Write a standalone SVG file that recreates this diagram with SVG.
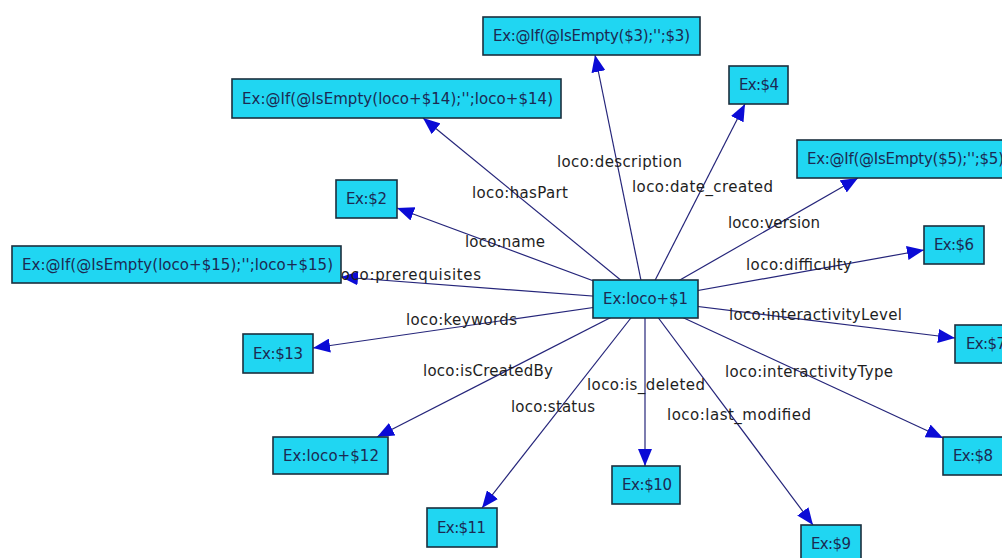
<svg xmlns="http://www.w3.org/2000/svg" width="1002" height="558" viewBox="0 0 1002 558">
  <style>
    .node rect { fill: #20d6f2; stroke: #1b2f3e; stroke-width: 1.6; }
    .node text { font-family: "DejaVu Sans", sans-serif; font-size: 15px; fill: #1c2a52; }
    .edge { stroke: #25257a; stroke-width: 1.2; fill: none; marker-end: url(#arrow); }
    .lbl { font-family: "DejaVu Sans", sans-serif; font-size: 15px; fill: #1e1e1e; }
  </style>
  <defs>
    <marker id="arrow" markerWidth="17" markerHeight="14" refX="17" refY="7" orient="auto" markerUnits="userSpaceOnUse">
      <path d="M0,0 L17,7 L0,14 z" fill="#0b0bd6"/>
    </marker>
  </defs>
  <rect width="1002" height="558" fill="#ffffff"/>

  <!-- connectors: every property radiates from the subject node -->
  <g id="connectors">
    <line class="edge" x1="645" y1="300" x2="595" y2="55"/>
    <line class="edge" x1="645" y1="300" x2="423" y2="118"/>
    <line class="edge" x1="645" y1="300" x2="745" y2="104"/>
    <line class="edge" x1="645" y1="300" x2="858" y2="178"/>
    <line class="edge" x1="645" y1="300" x2="397" y2="208"/>
    <line class="edge" x1="645" y1="300" x2="341" y2="277"/>
    <line class="edge" x1="645" y1="300" x2="924" y2="250"/>
    <line class="edge" x1="645" y1="300" x2="955" y2="338"/>
    <line class="edge" x1="645" y1="300" x2="943" y2="438"/>
    <line class="edge" x1="645" y1="300" x2="813" y2="525"/>
    <line class="edge" x1="645" y1="300" x2="645" y2="466"/>
    <line class="edge" x1="645" y1="300" x2="482" y2="508"/>
    <line class="edge" x1="645" y1="300" x2="377" y2="437"/>
    <line class="edge" x1="645" y1="300" x2="313" y2="348"/>

    <text class="lbl" x="557" y="167" textLength="125">loco:description</text>
    <text class="lbl" x="632" y="192" textLength="141">loco:date_created</text>
    <text class="lbl" x="472" y="198" textLength="96">loco:hasPart</text>
    <text class="lbl" x="728" y="228" textLength="92">loco:version</text>
    <text class="lbl" x="465" y="247" textLength="80">loco:name</text>
    <text class="lbl" x="746" y="270" textLength="106">loco:difficulty</text>
    <text class="lbl" x="336" y="280" textLength="145">loco:prerequisites</text>
    <text class="lbl" x="729" y="320" textLength="173">loco:interactivityLevel</text>
    <text class="lbl" x="406" y="325" textLength="111">loco:keywords</text>
    <text class="lbl" x="725" y="377" textLength="168">loco:interactivityType</text>
    <text class="lbl" x="423" y="376" textLength="130">loco:isCreatedBy</text>
    <text class="lbl" x="587" y="390" textLength="118">loco:is_deleted</text>
    <text class="lbl" x="511" y="412" textLength="84">loco:status</text>
    <text class="lbl" x="667" y="420" textLength="144">loco:last_modified</text>
  </g>

  <!-- nodes -->
  <g id="n1" class="node"><rect x="593" y="280" width="105" height="38"/><text x="603" y="304" textLength="85">Ex:loco+$1</text></g>
  <g id="n3" class="node"><rect x="483" y="17" width="217" height="38"/><text x="493" y="41" textLength="197">Ex:@If(@IsEmpty($3);'';$3)</text></g>
  <g id="n14" class="node"><rect x="232" y="79" width="329" height="39"/><text x="242" y="104" textLength="311">Ex:@If(@IsEmpty(loco+$14);'';loco+$14)</text></g>
  <g id="n4" class="node"><rect x="729" y="66" width="59" height="38"/><text x="739" y="90" textLength="40">Ex:$4</text></g>
  <g id="n5" class="node"><rect x="797" y="140" width="217" height="38"/><text x="807" y="164" textLength="197">Ex:@If(@IsEmpty($5);'';$5)</text></g>
  <g id="n2" class="node"><rect x="336" y="180" width="61" height="38"/><text x="346" y="204" textLength="41">Ex:$2</text></g>
  <g id="n15" class="node"><rect x="12" y="246" width="329" height="37"/><text x="22" y="270" textLength="311">Ex:@If(@IsEmpty(loco+$15);'';loco+$15)</text></g>
  <g id="n6" class="node"><rect x="924" y="226" width="60" height="38"/><text x="934" y="250" textLength="40">Ex:$6</text></g>
  <g id="n7" class="node"><rect x="955" y="325" width="60" height="38"/><text x="966" y="349" textLength="40">Ex:$7</text></g>
  <g id="n8" class="node"><rect x="943" y="437" width="60" height="38"/><text x="953" y="461" textLength="40">Ex:$8</text></g>
  <g id="n9" class="node"><rect x="801" y="525" width="60" height="38"/><text x="811" y="549" textLength="40">Ex:$9</text></g>
  <g id="n10" class="node"><rect x="612" y="466" width="68" height="38"/><text x="622" y="490" textLength="50">Ex:$10</text></g>
  <g id="n11" class="node"><rect x="427" y="508" width="70" height="39"/><text x="437" y="533" textLength="49">Ex:$11</text></g>
  <g id="n12" class="node"><rect x="273" y="437" width="115" height="37"/><text x="283" y="461" textLength="96">Ex:loco+$12</text></g>
  <g id="n13" class="node"><rect x="243" y="334" width="70" height="39"/><text x="253" y="359" textLength="50">Ex:$13</text></g>
</svg>
